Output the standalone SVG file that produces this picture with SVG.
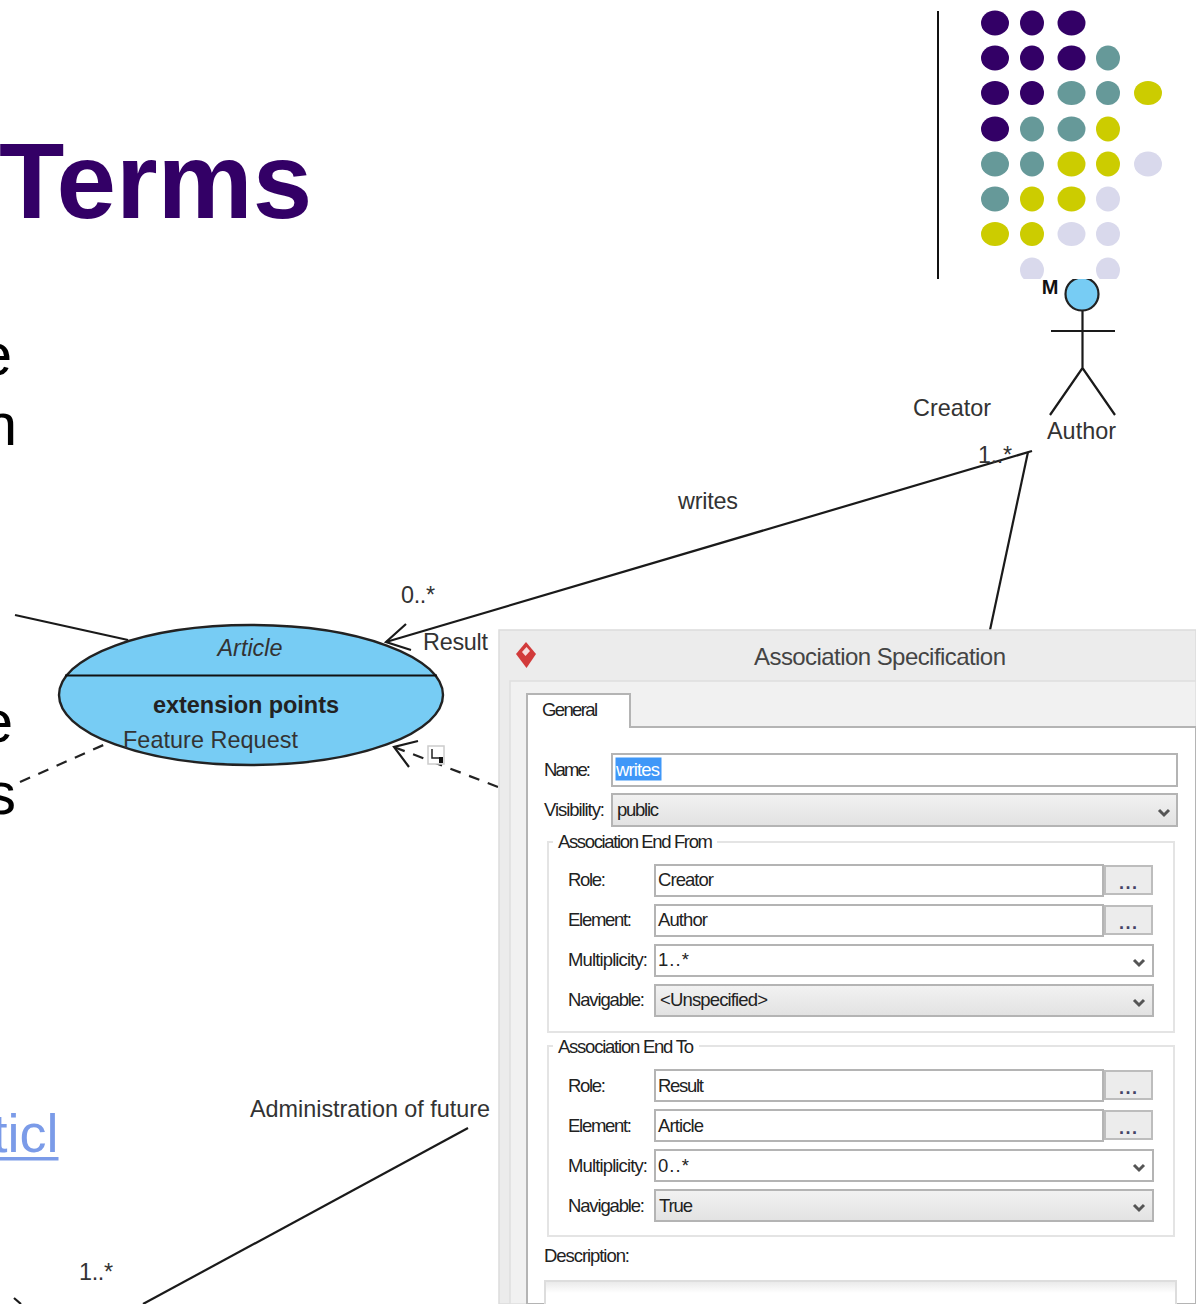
<svg xmlns="http://www.w3.org/2000/svg" width="1196" height="1304" viewBox="0 0 1196 1304">
<defs>
<clipPath id="dotclip"><rect x="940" y="0" width="256" height="279"/></clipPath>
<clipPath id="headclip"><rect x="1050" y="279" width="70" height="40"/></clipPath>
<linearGradient id="combo" x1="0" y1="0" x2="0" y2="1"><stop offset="0" stop-color="#f2f2f2"/><stop offset="1" stop-color="#e2e2e2"/></linearGradient>
<linearGradient id="desc" x1="0" y1="0" x2="0" y2="1"><stop offset="0" stop-color="#e8e8e8"/><stop offset="0.4" stop-color="#fff"/></linearGradient>
<path id="chev" d="M-5 -3 L0 2 L5 -3" fill="none" stroke="#555" stroke-width="3"/>
</defs>
<style>
text{font-family:"Liberation Sans",Arial,sans-serif}
.p{fill:#330066}.t{fill:#669999}.y{fill:#cccc00}.l{fill:#d9d9ec}
.slide{font-size:60px;fill:#000}
.uml{font-size:23.4px;fill:#333}
.ui{font-size:18.5px;fill:#222}
.dots{font-size:18px;font-weight:700;fill:#446;letter-spacing:1.500px}
.line{fill:none;stroke:#1a1a1a;stroke-width:2.2}
.dash{fill:none;stroke:#222;stroke-width:2.2;stroke-dasharray:11 9}
.field{fill:#fff;stroke:#b4b4b4;stroke-width:2}
.cb{fill:url(#combo);stroke:#b4b4b4;stroke-width:2}
.btn{fill:#ececec;stroke:#bdbdbd;stroke-width:2}
.grp{fill:#fff;stroke:#e4e4e4;stroke-width:2}
</style>

<g id="slide-title"><text x="-1" y="218" font-size="107" font-weight="700" fill="#330066">Terms</text></g>
<g id="slide-text">
<text class="slide" x="12" y="375" text-anchor="end">e</text>
<text class="slide" x="17" y="445" text-anchor="end">n</text>
<text class="slide" x="13" y="742" text-anchor="end">e</text>
<text class="slide" x="16" y="814" text-anchor="end">s</text>
<text x="58.500" y="1152" text-anchor="end" font-size="54" fill="#7b9be8">ticl</text>
<rect x="0" y="1157" width="58.500" height="3.500" fill="#7b9be8"/>
</g>
<g id="slide-decoration">
<line x1="938" y1="11" x2="938" y2="279" stroke="#111" stroke-width="2"/>
<g clip-path="url(#dotclip)">
<ellipse class="p" cx="995" cy="23" rx="14" ry="12.500"/><ellipse class="p" cx="1032" cy="23" rx="12" ry="12.500"/><ellipse class="p" cx="1071.500" cy="23" rx="14" ry="12.500"/>
<ellipse class="p" cx="995" cy="58" rx="14" ry="12.500"/><ellipse class="p" cx="1032" cy="58" rx="12" ry="12.500"/><ellipse class="p" cx="1071.500" cy="58" rx="14" ry="12.500"/><ellipse class="t" cx="1108" cy="58" rx="12" ry="12.500"/>
<ellipse class="p" cx="995" cy="93" rx="14" ry="12"/><ellipse class="p" cx="1032" cy="93" rx="12" ry="12"/><ellipse class="t" cx="1071.500" cy="93" rx="14" ry="12"/><ellipse class="t" cx="1108" cy="93" rx="12" ry="12"/><ellipse class="y" cx="1148" cy="93" rx="14" ry="12"/>
<ellipse class="p" cx="995" cy="129" rx="14" ry="12.500"/><ellipse class="t" cx="1032" cy="129" rx="12" ry="12.500"/><ellipse class="t" cx="1071.500" cy="129" rx="14" ry="12.500"/><ellipse class="y" cx="1108" cy="129" rx="12" ry="12.500"/>
<ellipse class="t" cx="995" cy="164" rx="14" ry="12.500"/><ellipse class="t" cx="1032" cy="164" rx="12" ry="12.500"/><ellipse class="y" cx="1071.500" cy="164" rx="14" ry="12.500"/><ellipse class="y" cx="1108" cy="164" rx="12" ry="12.500"/><ellipse class="l" cx="1148" cy="164" rx="14" ry="12.500"/>
<ellipse class="t" cx="995" cy="199" rx="14" ry="12.500"/><ellipse class="y" cx="1032" cy="199" rx="12" ry="12.500"/><ellipse class="y" cx="1071.500" cy="199" rx="14" ry="12.500"/><ellipse class="l" cx="1108" cy="199" rx="12" ry="12.500"/>
<ellipse class="y" cx="995" cy="234" rx="14" ry="12"/><ellipse class="y" cx="1032" cy="234" rx="12" ry="12"/><ellipse class="l" cx="1071.500" cy="234" rx="14" ry="12"/><ellipse class="l" cx="1108" cy="234" rx="12" ry="12"/>
<ellipse class="l" cx="1032" cy="270" rx="12" ry="12.500"/><ellipse class="l" cx="1108" cy="270" rx="12" ry="12.500"/>
</g>
</g>

<g id="connectors">
<path class="line" d="M1032 451 L386 642"/>
<path class="line" d="M406 624 L386 642 L411 650"/>
<path class="line" d="M1028 452 L990 630"/>
<path class="line" d="M15 615 L128 640"/>
<path class="dash" d="M20 782 L108 743"/>
<path class="dash" d="M498 787 L394 747"/>
<path class="line" d="M418 741 L394 747 L409 767"/>
<path class="line" d="M468 1128 L143 1304"/>
<path class="line" d="M14 1298 L21 1304"/>
</g>

<g id="actor-author">
<path class="line" d="M1082.500 311 V368 M1051 331 H1115 M1050 415 L1082.500 368 L1115 415"/>
<circle cx="1082" cy="294" r="16.500" fill="#77ccf4" stroke="#222" stroke-width="2.200" clip-path="url(#headclip)"/>
<text x="1050" y="294" font-size="20" font-weight="700" fill="#111" text-anchor="middle">M</text>
<text class="uml" x="1047" y="439" textLength="69">Author</text>
</g>

<g id="usecase-article">
<ellipse cx="251" cy="695" rx="192" ry="70" fill="#77ccf4" stroke="#222" stroke-width="2.400"/>
<line x1="65" y1="675.500" x2="437" y2="675.500" stroke="#111" stroke-width="2"/>
<text class="uml" x="250" y="656" text-anchor="middle" font-style="italic">Article</text>
<text x="153" y="713" font-size="23.500" font-weight="700" fill="#222" textLength="186">extension points</text>
<text class="uml" x="123" y="748" textLength="175">Feature Request</text>
</g>

<g id="labels">
<text class="uml" x="913" y="416" textLength="78">Creator</text>
<text class="uml" x="978" y="463" textLength="34">1..*</text>
<text class="uml" x="678" y="509" textLength="60">writes</text>
<text class="uml" x="401" y="603" textLength="34">0..*</text>
<text class="uml" x="423" y="650" textLength="65">Result</text>
<text class="uml" x="250" y="1117" textLength="240">Administration of future</text>
<text class="uml" x="79" y="1280" textLength="34">1..*</text>
</g>
<g id="extend-icon">
<rect x="428" y="746" width="16" height="18" fill="#fff" stroke="#ccc" stroke-width="1.500"/>
<path d="M432 749 V758 H441" fill="none" stroke="#222" stroke-width="1.500"/><rect x="439" y="757" width="4" height="6" fill="#111"/>
</g>

<g id="dialog">
<rect x="499" y="630" width="697" height="674" fill="#ececec" stroke="#dcdcdc" stroke-width="1.500"/>
<rect x="510" y="681" width="686" height="623" fill="#f1f1f1" stroke="#dedede" stroke-width="1.500"/>
<path d="M526 642 L536 654 L526.500 668 L516 654 Z" fill="#d23b3b"/>
<path d="M522 652 L526.500 647 L530 651 L525.500 656 Z" fill="#f6dddd"/>
<text x="754" y="665" font-size="24" fill="#444" textLength="252">Association Specification</text>
<path d="M527 1304 V694 H630 V727 H1196 V1304 Z" fill="#fff" stroke="#b4b4b4" stroke-width="2"/>
<text class="ui" x="542" y="716" textLength="56">General</text>

<text class="ui" x="544" y="776" textLength="47">Name:</text>
<rect class="field" x="612" y="754" width="565" height="32"/>
<rect x="615.500" y="757.500" width="46" height="23" fill="#3f97f8"/>
<text class="ui" x="616" y="776" style="fill:#fff" textLength="44">writes</text>
<text class="ui" x="544" y="816" textLength="61">Visibility:</text>
<rect class="cb" x="612" y="794" width="565" height="32"/>
<text class="ui" x="617" y="816" textLength="42">public</text>
<use href="#chev" x="1164" y="813"/>

<rect class="grp" x="548" y="842" width="626" height="190"/>
<rect x="553" y="832" width="164" height="20" fill="#fff"/>
<text class="ui" x="558" y="848" textLength="155">Association End From</text>
<text class="ui" x="568" y="886" textLength="38">Role:</text>
<rect class="field" x="655" y="865" width="448" height="31"/>
<text class="ui" x="658" y="886" textLength="56">Creator</text>
<rect class="btn" x="1105" y="866" width="47" height="28"/>
<text class="dots" x="1119" y="889">...</text>
<text class="ui" x="568" y="926" textLength="64">Element:</text>
<rect class="field" x="655" y="905" width="448" height="31"/>
<text class="ui" x="658" y="926" textLength="50">Author</text>
<rect class="btn" x="1105" y="906" width="47" height="28"/>
<text class="dots" x="1119" y="929">...</text>
<text class="ui" x="568" y="966" textLength="80">Multiplicity:</text>
<rect class="field" x="655" y="945" width="498" height="31"/>
<text class="ui" x="658" y="966" textLength="31">1..*</text>
<use href="#chev" x="1139" y="963"/>
<text class="ui" x="568" y="1006" textLength="77">Navigable:</text>
<rect class="cb" x="655" y="985" width="498" height="31"/>
<text class="ui" x="660" y="1006" textLength="108">&lt;Unspecified&gt;</text>
<use href="#chev" x="1139" y="1003"/>

<rect class="grp" x="548" y="1046" width="626" height="190"/>
<rect x="553" y="1037" width="146" height="20" fill="#fff"/>
<text class="ui" x="558" y="1053" textLength="136">Association End To</text>
<text class="ui" x="568" y="1092" textLength="38">Role:</text>
<rect class="field" x="655" y="1070" width="448" height="31"/>
<text class="ui" x="658" y="1092" textLength="46">Result</text>
<rect class="btn" x="1105" y="1071" width="47" height="28"/>
<text class="dots" x="1119" y="1094">...</text>
<text class="ui" x="568" y="1132" textLength="64">Element:</text>
<rect class="field" x="655" y="1110" width="448" height="31"/>
<text class="ui" x="658" y="1132" textLength="46">Article</text>
<rect class="btn" x="1105" y="1111" width="47" height="28"/>
<text class="dots" x="1119" y="1134">...</text>
<text class="ui" x="568" y="1172" textLength="80">Multiplicity:</text>
<rect class="field" x="655" y="1150" width="498" height="31"/>
<text class="ui" x="658" y="1172" textLength="31">0..*</text>
<use href="#chev" x="1139" y="1168"/>
<text class="ui" x="568" y="1212" textLength="77">Navigable:</text>
<rect class="cb" x="655" y="1190" width="498" height="31"/>
<text class="ui" x="659" y="1212" textLength="34">True</text>
<use href="#chev" x="1139" y="1208"/>

<text class="ui" x="544" y="1262" textLength="86">Description:</text>
<rect x="545" y="1281" width="631" height="30" fill="url(#desc)" stroke="#ddd" stroke-width="2"/>
</g>
</svg>
